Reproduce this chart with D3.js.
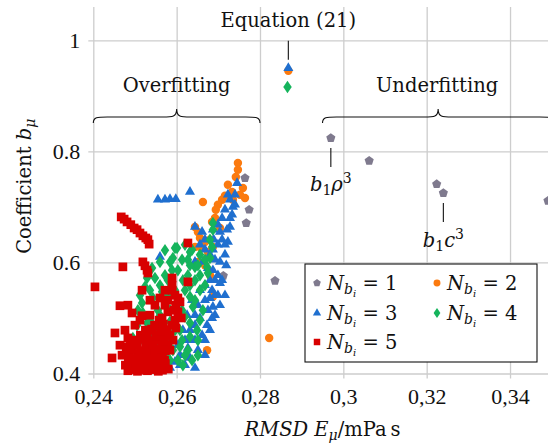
<!DOCTYPE html>
<html>
<head>
<meta charset="utf-8">
<script src="https://cdn.jsdelivr.net/npm/d3@7"></script>
<style>
body { margin: 0; background: #fff; }
.num { font-family: 'Liberation Serif'; font-size: 22px; fill: #111; }
.txt { font-family: 'DejaVu Serif'; font-size: 19.5px; fill: #111; }
</style>
</head>
<body>
<div id="chart"></div>
<script>
const width = 548;
const height = 445;

const xTicks = [0.24, 0.26, 0.28, 0.30, 0.32, 0.34];
const yTicks = [0.4, 0.6, 0.8, 1.0];

// N_bi = 1
const series1 = [
    [0.2764, 0.752], [0.2774, 0.695], [0.2767, 0.671], [0.2712, 0.576], [0.2836, 0.567],
    [0.2970, 0.824], [0.3062, 0.783], [0.3224, 0.741], [0.3240, 0.725], [0.3491, 0.711]
];

// N_bi = 2
const series2 = [
    [0.2868, 0.945], [0.2747, 0.779], [0.2747, 0.767], [0.2742, 0.754], [0.2759, 0.734],
    [0.2752, 0.722], [0.2764, 0.716], [0.2733, 0.727], [0.2716, 0.720], [0.2709, 0.713],
    [0.2699, 0.704], [0.2694, 0.695], [0.2692, 0.680], [0.2685, 0.673], [0.2663, 0.709],
    [0.2644, 0.664], [0.2651, 0.655], [0.2656, 0.644], [0.2668, 0.637], [0.2680, 0.641],
    [0.2644, 0.628], [0.2656, 0.628], [0.2687, 0.628], [0.2675, 0.619], [0.2651, 0.601],
    [0.2687, 0.538], [0.2673, 0.442], [0.2822, 0.464], [0.2723, 0.740], [0.2735, 0.713],
    [0.2704, 0.662], [0.2668, 0.595], [0.2680, 0.577]
];

// N_bi = 3
const series3 = [
    [0.2868, 0.950], [0.2555, 0.713], [0.2572, 0.713], [0.2584, 0.714], [0.2598, 0.714],
    [0.2632, 0.727], [0.2560, 0.610], [0.2745, 0.743], [0.2723, 0.722], [0.2740, 0.722],
    [0.2735, 0.700], [0.2733, 0.686], [0.2728, 0.664], [0.2723, 0.637], [0.2644, 0.664],
    [0.2661, 0.655], [0.2687, 0.659], [0.2689, 0.641], [0.2687, 0.623], [0.2692, 0.605],
    [0.2687, 0.586], [0.2704, 0.563], [0.2692, 0.541], [0.2687, 0.520], [0.2656, 0.632],
    [0.2668, 0.623], [0.2680, 0.614], [0.2663, 0.601], [0.2675, 0.590], [0.2699, 0.577],
    [0.2709, 0.568], [0.2680, 0.568], [0.2668, 0.559], [0.2656, 0.550], [0.2685, 0.550],
    [0.2699, 0.541], [0.2668, 0.532], [0.2704, 0.523], [0.2651, 0.523], [0.2675, 0.514],
    [0.2685, 0.500], [0.2656, 0.500], [0.2644, 0.487], [0.2673, 0.487], [0.2632, 0.478],
    [0.2661, 0.469], [0.2620, 0.460], [0.2644, 0.460], [0.2627, 0.446], [0.2651, 0.442],
    [0.2608, 0.433], [0.2632, 0.428], [0.2596, 0.421], [0.2620, 0.415], [0.2716, 0.614],
    [0.2709, 0.641], [0.2704, 0.655], [0.2699, 0.632], [0.2719, 0.595], [0.2668, 0.641],
    [0.2637, 0.532], [0.2625, 0.505], [0.2603, 0.451], [0.2584, 0.410], [0.2716, 0.695],
    [0.2728, 0.713], [0.2644, 0.601], [0.2704, 0.601], [0.2716, 0.632], [0.2721, 0.659],
    [0.2692, 0.568], [0.2716, 0.541], [0.2680, 0.536], [0.2692, 0.505], [0.2668, 0.460],
    [0.2680, 0.478], [0.2644, 0.505], [0.2632, 0.460], [0.2608, 0.415], [0.2644, 0.410],
    [0.2668, 0.433], [0.2615, 0.478], [0.2740, 0.704], [0.2728, 0.680], [0.2709, 0.680],
    [0.2699, 0.668]
];

// N_bi = 4
const series4 = [
    [0.2866, 0.916], [0.2601, 0.626], [0.2632, 0.619], [0.2627, 0.605], [0.2644, 0.592],
    [0.2632, 0.595], [0.2627, 0.577], [0.2615, 0.568], [0.2529, 0.572], [0.2541, 0.590],
    [0.2560, 0.559], [0.2565, 0.547], [0.2524, 0.556], [0.2543, 0.536], [0.2517, 0.527],
    [0.2519, 0.509], [0.2529, 0.491], [0.2505, 0.487], [0.2553, 0.478], [0.2567, 0.466],
    [0.2495, 0.464], [0.2529, 0.455], [0.2591, 0.442], [0.2603, 0.424], [0.2584, 0.464],
    [0.2596, 0.626], [0.2591, 0.608], [0.2589, 0.586], [0.2637, 0.623], [0.2687, 0.671],
    [0.2687, 0.659], [0.2685, 0.628], [0.2680, 0.608], [0.2668, 0.605], [0.2673, 0.592],
    [0.2675, 0.581], [0.2651, 0.595], [0.2644, 0.568], [0.2656, 0.550], [0.2632, 0.538],
    [0.2639, 0.520], [0.2663, 0.514], [0.2632, 0.491], [0.2632, 0.466], [0.2627, 0.442],
    [0.2637, 0.424], [0.2608, 0.448], [0.2620, 0.502], [0.2608, 0.478], [0.2572, 0.532],
    [0.2584, 0.514], [0.2596, 0.550], [0.2608, 0.532], [0.2579, 0.568], [0.2555, 0.514],
    [0.2536, 0.469], [0.2548, 0.442], [0.2572, 0.433], [0.2615, 0.415], [0.2651, 0.433],
    [0.2560, 0.601], [0.2613, 0.605], [0.2620, 0.550], [0.2649, 0.478], [0.2512, 0.541],
    [0.2507, 0.514], [0.2572, 0.622], [0.2584, 0.601], [0.2603, 0.586], [0.2572, 0.577],
    [0.2548, 0.572], [0.2536, 0.550], [0.2579, 0.541], [0.2598, 0.523], [0.2560, 0.505],
    [0.2584, 0.493], [0.2536, 0.496], [0.2548, 0.460], [0.2613, 0.460], [0.2596, 0.478],
    [0.2644, 0.532], [0.2656, 0.496], [0.2651, 0.460], [0.2620, 0.433], [0.2584, 0.424],
    [0.2656, 0.577], [0.2668, 0.559], [0.2620, 0.632], [0.2656, 0.614], [0.2680, 0.641],
    [0.2632, 0.559], [0.2613, 0.514], [0.2560, 0.451], [0.2524, 0.433], [0.2512, 0.460]
];

// N_bi = 5
const series5 = [
    [0.2467, 0.682], [0.2474, 0.678], [0.2481, 0.673], [0.2490, 0.668], [0.2498, 0.662],
    [0.2505, 0.659], [0.2512, 0.653], [0.2519, 0.648], [0.2526, 0.644], [0.2531, 0.641],
    [0.2534, 0.633], [0.2627, 0.635], [0.2404, 0.556], [0.2471, 0.592], [0.2519, 0.601],
    [0.2524, 0.594], [0.2529, 0.586], [0.2531, 0.581], [0.2589, 0.572], [0.2589, 0.559],
    [0.2627, 0.565], [0.2517, 0.550], [0.2536, 0.532], [0.2464, 0.522], [0.2493, 0.509],
    [0.2517, 0.504], [0.2536, 0.505], [0.2558, 0.496], [0.2452, 0.473], [0.2483, 0.464],
    [0.2445, 0.428], [0.2481, 0.448], [0.2589, 0.550], [0.2596, 0.541], [0.2603, 0.536],
    [0.2608, 0.529], [0.2598, 0.523], [0.2594, 0.514], [0.2603, 0.511], [0.2611, 0.500],
    [0.2596, 0.496], [0.2589, 0.487], [0.2598, 0.482], [0.2584, 0.469], [0.2591, 0.460],
    [0.2579, 0.451], [0.2584, 0.442], [0.2560, 0.536], [0.2572, 0.523], [0.2579, 0.511],
    [0.2565, 0.500], [0.2553, 0.487],
    [0.2483, 0.405], [0.2496, 0.407], [0.2506, 0.404], [0.2520, 0.406], [0.2530, 0.405],
    [0.2544, 0.407], [0.2556, 0.404], [0.2566, 0.406], [0.2580, 0.408],
    [0.2477, 0.415], [0.2491, 0.413], [0.2502, 0.416], [0.2515, 0.414], [0.2525, 0.417],
    [0.2539, 0.415], [0.2549, 0.413], [0.2563, 0.416], [0.2573, 0.418],
    [0.2484, 0.424], [0.2497, 0.426], [0.2513, 0.423], [0.2525, 0.425], [0.2542, 0.422],
    [0.2554, 0.426], [0.2571, 0.424],
    [0.2487, 0.433], [0.2506, 0.435], [0.2521, 0.432], [0.2537, 0.434], [0.2549, 0.431],
    [0.2566, 0.435],
    [0.2479, 0.442], [0.2494, 0.444], [0.2513, 0.441], [0.2528, 0.443], [0.2547, 0.440],
    [0.2561, 0.444], [0.2573, 0.441],
    [0.2489, 0.451], [0.2506, 0.453], [0.2527, 0.450], [0.2544, 0.452], [0.2564, 0.449],
    [0.2501, 0.460], [0.2518, 0.462], [0.2537, 0.459], [0.2554, 0.461], [0.2571, 0.458],
    [0.2513, 0.469], [0.2530, 0.471], [0.2551, 0.468], [0.2566, 0.470],
    [0.2525, 0.478], [0.2540, 0.480], [0.2561, 0.477], [0.2576, 0.479],
    [0.2547, 0.487], [0.2568, 0.489],
    [0.2469, 0.433], [0.2464, 0.451], [0.2476, 0.478], [0.2500, 0.487], [0.2512, 0.496],
    [0.2483, 0.523], [0.2548, 0.523], [0.2531, 0.478], [0.2572, 0.550], [0.2579, 0.532]
];

const x = d3.scaleLinear().domain([0.24, 0.35]).range([93.3, 551.7]);
const y = d3.scaleLinear().domain([0.4, 1.06]).range([373.5, 7]);

// custom marker shapes (size = radius)
const pentagon = {
    draw(ctx, r) {
        for (let k = 0; k < 5; k++) {
            const a = -Math.PI / 2 + k * 2 * Math.PI / 5;
            k ? ctx.lineTo(r * Math.cos(a), r * Math.sin(a)) : ctx.moveTo(r * Math.cos(a), r * Math.sin(a));
        }
        ctx.closePath();
    }
};
const tallDiamond = {
    draw(ctx, r) {
        ctx.moveTo(0, -r * 1.25);
        ctx.lineTo(r * 0.85, 0);
        ctx.lineTo(0, r * 1.25);
        ctx.lineTo(-r * 0.85, 0);
        ctx.closePath();
    }
};

const series = [
    { label: "1", data: series1, color: "#7f7a8e", type: pentagon, size: 4.8, legendSize: 4 },
    { label: "2", data: series2, color: "#fb7a0f", type: d3.symbolCircle, size: 56, legendSize: 38 },
    { label: "3", data: series3, color: "#1f6fcf", type: d3.symbolTriangle, size: 44, legendSize: 30 },
    { label: "4", data: series4, color: "#15b45c", type: tallDiamond, size: 5, legendSize: 4 },
    { label: "5", data: series5, color: "#d80000", type: d3.symbolSquare, size: 76, legendSize: 42 }
];

const svg = d3.select("#chart")
    .append("svg")
    .attr("width", width)
    .attr("height", height);

// grid via axes
const gx = svg.append("g")
    .attr("transform", `translate(0,378.5)`)
    .call(d3.axisBottom(x).tickValues(xTicks)
        .tickSize(-(378.5 - 7)).tickSizeOuter(0).tickPadding(10)
        .tickFormat(d => String(+d.toFixed(2)).replace(".", ",")));

const gy = svg.append("g")
    .attr("transform", `translate(88.3,0)`)
    .call(d3.axisLeft(y).tickValues(yTicks)
        .tickSize(-(551.7 - 88.3)).tickSizeOuter(0).tickPadding(8)
        .tickFormat(d => String(d)));

[gx, gy].forEach(g => {
    g.attr("font-family", null).attr("font-size", null);
    g.select(".domain").remove();
    g.selectAll(".tick line").attr("stroke", "#cdcdcd").attr("stroke-width", 1.3);
    g.selectAll(".tick text").attr("class", "num").attr("fill", null);
});

// markers
series.forEach(s => {
    svg.append("g")
        .selectAll("path")
        .data(s.data)
        .join("path")
        .attr("transform", d => `translate(${x(d[0])},${y(d[1])})`)
        .attr("d", d3.symbol().type(s.type).size(s.size))
        .attr("fill", s.color);
});

// annotations
const ann = svg.append("g").attr("stroke", "#111").attr("fill", "none").attr("stroke-width", 1.1);

const brace = (x0, x1, yb) => {
    const xm = (x0 + x1) / 2;
    return `M${x0},${yb + 6} C${x0},${yb} ${x0 + 4},${yb} ${x0 + 14},${yb}` +
        ` L${xm - 14},${yb} C${xm - 4},${yb} ${xm},${yb} ${xm},${yb - 8}` +
        ` C${xm},${yb} ${xm + 4},${yb} ${xm + 14},${yb}` +
        ` L${x1 - 14},${yb} C${x1 - 4},${yb} ${x1},${yb} ${x1},${yb + 6}`;
};
ann.append("path").attr("d", brace(x(0.24), x(0.28), y(0.862)));
ann.append("path").attr("d", brace(x(0.295), x(0.3505), y(0.862)));

ann.append("line").attr("x1", x(0.2868)).attr("x2", x(0.2868)).attr("y1", y(0.999)).attr("y2", y(0.965));
ann.append("line").attr("x1", x(0.297)).attr("x2", x(0.297)).attr("y1", y(0.806)).attr("y2", y(0.772));
ann.append("line").attr("x1", x(0.324)).attr("x2", x(0.324)).attr("y1", y(0.707)).attr("y2", y(0.673));

const label = (px, py, anchor) => svg.append("text")
    .attr("class", "txt")
    .attr("x", px).attr("y", py)
    .attr("text-anchor", anchor);

label(x(0.2868), 27, "middle").text("Equation (21)");
label(x(0.26), 92, "middle").text("Overfitting");
label(x(0.3225), 92, "middle").text("Underfitting");

const b1 = label(x(0.297), 191, "middle");
b1.append("tspan").attr("font-style", "italic").text("b");
b1.append("tspan").attr("font-size", 14).attr("dy", 4).text("1");
b1.append("tspan").attr("font-style", "italic").attr("dy", -4).text("ρ");
b1.append("tspan").attr("font-size", 14).attr("dy", -8).text("3");

const b2 = label(x(0.324), 247, "middle");
b2.append("tspan").attr("font-style", "italic").text("b");
b2.append("tspan").attr("font-size", 14).attr("dy", 4).text("1");
b2.append("tspan").attr("font-style", "italic").attr("dy", -4).text("c");
b2.append("tspan").attr("font-size", 14).attr("dy", -8).text("3");

// axis titles
const xt = label((x(0.24) + x(0.35)) / 2, 436, "middle");
xt.append("tspan").attr("font-style", "italic").text("RMSD E");
xt.append("tspan").attr("font-style", "italic").attr("font-size", 14).attr("dy", 4).text("μ");
xt.append("tspan").attr("dy", -4).text("/mPa\u2009s");

const yt = svg.append("text")
    .attr("class", "txt")
    .attr("transform", `translate(31,${(y(0.4) + y(1.06)) / 2 - 4}) rotate(-90)`)
    .attr("text-anchor", "middle");
yt.append("tspan").text("Coefficient ");
yt.append("tspan").attr("font-style", "italic").text("b");
yt.append("tspan").attr("font-style", "italic").attr("font-size", 14).attr("dy", 4).text("μ");

// legend
const legend = svg.append("g");
legend.append("rect")
    .attr("x", 305).attr("y", 264).attr("width", 232).attr("height", 98)
    .attr("fill", "#fff").attr("stroke", "#111").attr("stroke-width", 1.1);

const slots = [[317, 283], [437, 283], [317, 313], [437, 313], [317, 342]];
series.forEach((s, i) => {
    const [lx, ly] = slots[i];
    legend.append("path")
        .attr("transform", `translate(${lx},${ly})`)
        .attr("d", d3.symbol().type(s.type).size(s.legendSize))
        .attr("fill", s.color);
    const t = legend.append("text").attr("class", "txt").attr("x", lx + 10).attr("y", ly + 7);
    t.append("tspan").attr("font-style", "italic").text("N");
    t.append("tspan").attr("font-style", "italic").attr("font-size", 14).attr("dy", 4).text("b");
    t.append("tspan").attr("font-style", "italic").attr("font-size", 10).attr("dy", 3).text("i");
    t.append("tspan").attr("dy", -7).text(" = " + s.label);
});
</script>
</body>
</html>
